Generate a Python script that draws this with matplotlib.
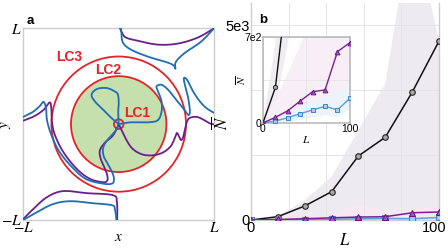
import numpy as np
import matplotlib
matplotlib.use("Agg")
import matplotlib.pyplot as plt
from matplotlib.patches import Circle
from matplotlib.transforms import ScaledTranslation

plt.rcParams['font.family'] = ['Liberation Sans', 'DejaVu Sans']
plt.rcParams['mathtext.fontset'] = 'stix'

# ---- panel a: separatrix curves (units of L) ----
blue_tr_x = [0.023, 0.028, 0.044, 0.128, 0.306, 0.515, 0.578, 0.594, 0.599, 0.693, 0.861, 1.0]
blue_tr_y = [1.0, 0.955, 0.850, 0.777, 0.704, 0.641, 0.609, 0.578, 0.649, 0.743, 0.858, 1.0]
purple_tr_x = [0.013, 0.034, 0.075, 0.201, 0.410, 0.620, 0.829, 1.0]
purple_tr_y = [1.0, 0.955, 0.903, 0.869, 0.829, 0.840, 0.903, 1.0]

blue_bl_x = [-1.0, -0.857, -0.690, -0.511, -0.270, -0.071, -0.040, -0.024]
blue_bl_y = [-1.0, -0.919, -0.835, -0.804, -0.825, -0.846, -0.888, -1.0]
purple_bl_x = [-1.0, -0.898, -0.752, -0.584, -0.333, -0.061, -0.019, -0.016]
purple_bl_y = [-0.99, -0.888, -0.762, -0.699, -0.720, -0.741, -0.815, -1.0]

blue_left_x = [-1.0, -0.898, -0.825, -0.788, -0.762, -0.752, -0.710, -0.626, -0.490, -0.343,
               -0.165, -0.071, -0.050, -0.061, -0.103, -0.155, -0.165, -0.134, -0.071, -0.019, 0.0]
blue_left_y = [0.075, 0.128, 0.191, 0.232, 0.170, 0.044, -0.103, -0.281, -0.448, -0.573,
               -0.621, -0.621, -0.583, -0.520, -0.437, -0.342, -0.259, -0.186, -0.113, -0.050, 0.0]
purple_left_x = [-1.0, -0.893, -0.788, -0.725, -0.707, -0.700, -0.668, -0.581, -0.441, -0.302,
                 -0.162, -0.120, -0.120, -0.144, -0.189, -0.197, -0.144, -0.058, 0.0]
purple_left_y = [0.036, 0.078, 0.148, 0.225, 0.177, 0.023, -0.116, -0.291, -0.466, -0.571,
                 -0.606, -0.588, -0.535, -0.466, -0.361, -0.273, -0.193, -0.116, 0.0]

blue_loop_x = [0.0, -0.005, 0.0, -0.008, -0.040, -0.127, -0.231, -0.284, -0.249, -0.162, -0.074, 0.0]
blue_loop_y = [0.0, 0.128, 0.222, 0.306, 0.340, 0.376, 0.365, 0.306, 0.236, 0.149, 0.062, 0.0]

blue_right_x = [0.0, 0.117, 0.327, 0.413, 0.449, 0.449, 0.413, 0.396, 0.449, 0.518, 0.588,
                0.675, 0.728, 0.746, 0.728, 0.693, 0.683, 0.717, 0.780, 0.851, 0.920, 1.0]
blue_right_y = [0.0, 0.018, 0.020, 0.044, 0.131, 0.236, 0.340, 0.393, 0.410, 0.358, 0.271,
                0.166, 0.096, 0.131, 0.271, 0.410, 0.480, 0.461, 0.340, 0.236, 0.166, 0.117]
purple_right_x = [0.0, 0.034, 0.075, 0.128, 0.191, 0.275, 0.380, 0.473, 0.547, 0.588, 0.609,
                  0.630, 0.651, 0.672, 0.693, 0.714, 0.746, 0.819, 0.892, 0.955, 1.0]
purple_right_y = [0.0, -0.071, -0.155, -0.239, -0.291, -0.323, -0.323, -0.291, -0.228, -0.145, -0.093,
                  -0.124, -0.165, -0.145, -0.061, 0.023, 0.065, 0.075, 0.044, 0.007, -0.003]

lc_names = ['LC1', 'LC2', 'LC3']
lc_radii = [0.05, 0.50, 0.705]

# ---- panel b: mean N versus L ----
L_vals = [0, 14.3, 28.6, 42.9, 57.1, 71.4, 85.7, 100]
n_black = [0, 85, 359, 726, 1641, 2121, 3274, 4590]
n_purple = [0, 14, 32, 56, 75, 84, 185, 206]
n_blue = [0, 3, 10, 20, 30, 40, 33, 65]
band_grey_hi = [0, 85, 510, 1110, 2300, 3500, 7700, 4600]
band_pink_hi = [0, 40, 80, 150, 430, 250, 300, 330]

# inset (its own scale)
n_black_in = [0, 290, 1150, 2320, 5250, 6790, 10480, 14690]
n_purple_in = [0, 46, 100, 179, 255, 269, 581, 654]
n_blue_in = [0, 16, 43, 76, 106, 136, 106, 201]
in_grey_lo = [0, 120, 650, 1300, 2500, 3500, 5000, 6000]
in_grey_hi = [0, 650, 1500, 3000, 6000, 8000, 12000, 16000]
in_pink_lo = [0, 15, 40, 80, 110, 120, 200, 260]
in_pink_hi = [0, 200, 420, 650, 950, 1050, 1150, 1200]
in_blue_lo = [0, 0, 10, 30, 50, 70, 50, 120]
in_blue_hi = [0, 40, 90, 140, 180, 220, 260, 320]


def smooth(xs, ys, n=10):
    # Catmull-Rom through the traced points
    p = np.column_stack([xs, ys])
    p = np.vstack([p[0], p, p[-1]])
    t = np.linspace(0, 1, n, endpoint=False)[:, None]
    out = []
    for i in range(1, len(p) - 2):
        p0, p1, p2, p3 = p[i - 1], p[i], p[i + 1], p[i + 2]
        out.append(0.5 * (2 * p1 + (-p0 + p2) * t + (2 * p0 - 5 * p1 + 4 * p2 - p3) * t ** 2
                          + (-p0 + 3 * p1 - 3 * p2 + p3) * t ** 3))
    out.append(p[-2][None])
    out = np.vstack(out)
    return out[:, 0], out[:, 1]


fig = plt.figure(figsize=(4.48, 2.52), dpi=100)

red = '#e5222a'
blue = '#1f6db5'
purple = '#6a1f8e'
frame = '#cccccc'

# ===== panel a =====
ax = fig.add_axes([0.052, 0.127, 0.426, 0.761])
ax.set_xlim(-1, 1)
ax.set_ylim(-1, 1)
ax.add_patch(Circle((0, 0), lc_radii[1], facecolor='#c5e0ad', edgecolor='none', zorder=1))
for r in lc_radii:
    ax.add_patch(Circle((0, 0), r, facecolor='none', edgecolor=red, lw=1.3, zorder=2))

for xs, ys, c in [(purple_tr_x, purple_tr_y, purple), (blue_tr_x, blue_tr_y, blue),
                  (purple_bl_x, purple_bl_y, purple), (blue_bl_x, blue_bl_y, blue),
                  (purple_left_x, purple_left_y, purple), (blue_left_x, blue_left_y, blue),
                  (purple_right_x, purple_right_y, purple), (blue_right_x, blue_right_y, blue),
                  (blue_loop_x, blue_loop_y, blue)]:
    sx, sy = smooth(xs, ys)
    ax.plot(sx, sy, color=c, lw=1.3, zorder=3, solid_capstyle='round')

ax.text(-0.52, 0.70, lc_names[2], color=red, fontsize=10, fontweight='bold', ha='center', va='center')
ax.text(-0.11, 0.56, lc_names[1], color=red, fontsize=10, fontweight='bold', ha='center', va='center')
ax.text(0.19, 0.12, lc_names[0], color=red, fontsize=10, fontweight='bold', ha='center', va='center')

ax.set_xticks([-1, 1])
ax.set_xticklabels(['$-L$', '$L$'], fontsize=11)
ax.set_yticks([-1, 1])
ax.set_yticklabels(['$-L$', '$L$'], fontsize=11)
ax.tick_params(length=0, pad=1)
ax.set_xlabel('$x$', fontsize=11)
ax.xaxis.set_label_coords(0.5, -0.05)
ax.set_ylabel('$y$', fontsize=11)
ax.yaxis.set_label_coords(-0.055, 0.5)
for s in ax.spines.values():
    s.set_color(frame)
    s.set_linewidth(1.0)
fig.text(0.06, 0.915, 'a', fontsize=9.5, fontweight='bold', ha='left', va='center')

# ===== panel b =====
bx = fig.add_axes([0.560, 0.127, 0.420, 0.861])
bx.set_xlim(0, 100)
bx.set_ylim(0, 5564)
bx.fill_between(L_vals, 0, band_grey_hi, color='#eeebf0', lw=0, zorder=0)
bx.fill_between(L_vals, 0, band_pink_hi, color='#f6e9f2', lw=0, zorder=0)
bx.plot(L_vals, n_black, '-o', color='#111111', lw=1.1, ms=4, mfc='#a8a8a8', mec='#222222', mew=0.8, zorder=3)
bx.plot(L_vals, n_blue, '-s', color='#5b9fd6', lw=1.1, ms=3.8, mfc='#a9cdea', mec='#3d86c6', mew=0.8, zorder=3)
bx.plot(L_vals, n_purple, '-^', color='#7a1f95', lw=1.1, ms=4.2, mfc='#a45cba', mec='#6a1782', mew=0.8, zorder=3)
bx.set_xticks([0, 20, 40, 60, 80, 100])
bx.set_xticklabels(['0', '', '', '', '', '100'], fontsize=10.5)
bx.set_yticks([0, 5000 / 3, 10000 / 3, 5000])
bx.set_yticklabels(['0', '', '', '5e3'], fontsize=10.5)
bx.tick_params(length=0, pad=1)
last = bx.get_xticklabels()[-1]
last.set_ha('right')
last.set_transform(last.get_transform() + ScaledTranslation(7 / 100, 0, fig.dpi_scale_trans))
bx.grid(True, color='#e4e4e4', lw=0.7)
bx.set_axisbelow(True)
bx.set_xlabel('$L$', fontsize=12)
bx.xaxis.set_label_coords(0.5, -0.055)
bx.set_ylabel(r'$\overline{N}$', fontsize=12)
bx.yaxis.set_label_coords(-0.11, 0.45)
for s in bx.spines.values():
    s.set_color(frame)
    s.set_linewidth(1.0)
bx.spines['top'].set_visible(False)
fig.text(0.578, 0.92, 'b', fontsize=9.5, fontweight='bold', ha='left', va='center')

# inset
ix = fig.add_axes([0.587, 0.512, 0.194, 0.341])
ix.set_xlim(0, 100)
ix.set_ylim(0, 700)
ix.fill_between(L_vals, in_grey_lo, in_grey_hi, color='#efedf1', lw=0, zorder=0)
ix.fill_between(L_vals, in_pink_lo, in_pink_hi, color='#f8eef6', lw=0, zorder=0)
ix.fill_between(L_vals, in_blue_lo, in_blue_hi, color='#edf3fa', lw=0, zorder=0)
ix.plot(L_vals, n_black_in, '-o', color='#111111', lw=1.0, ms=3, mfc='#a8a8a8', mec='#222222', mew=0.7, zorder=3)
ix.plot(L_vals, n_blue_in, '-s', color='#5b9fd6', lw=1.0, ms=3, mfc='#a9cdea', mec='#3d86c6', mew=0.7, zorder=3)
ix.plot(L_vals, n_purple_in, '-^', color='#7a1f95', lw=1.0, ms=3.4, mfc='#a45cba', mec='#6a1782', mew=0.7, zorder=3)
ix.set_xticks([0, 50, 100])
ix.set_xticklabels(['0', '', '100'], fontsize=7.5)
ix.set_yticks([0, 350, 700])
ix.set_yticklabels(['0', '', '7e2'], fontsize=7.5)
ix.tick_params(length=0, pad=1)
ix.grid(True, color='#e4e4e4', lw=0.6)
ix.set_axisbelow(True)
ix.set_xlabel('$L$', fontsize=8, labelpad=0)
ix.set_ylabel(r'$\overline{N}$', fontsize=8, labelpad=-3)
for s in ix.spines.values():
    s.set_color('#b5b5b5')
    s.set_linewidth(1.1)

fig.savefig('out.png', dpi=100)
